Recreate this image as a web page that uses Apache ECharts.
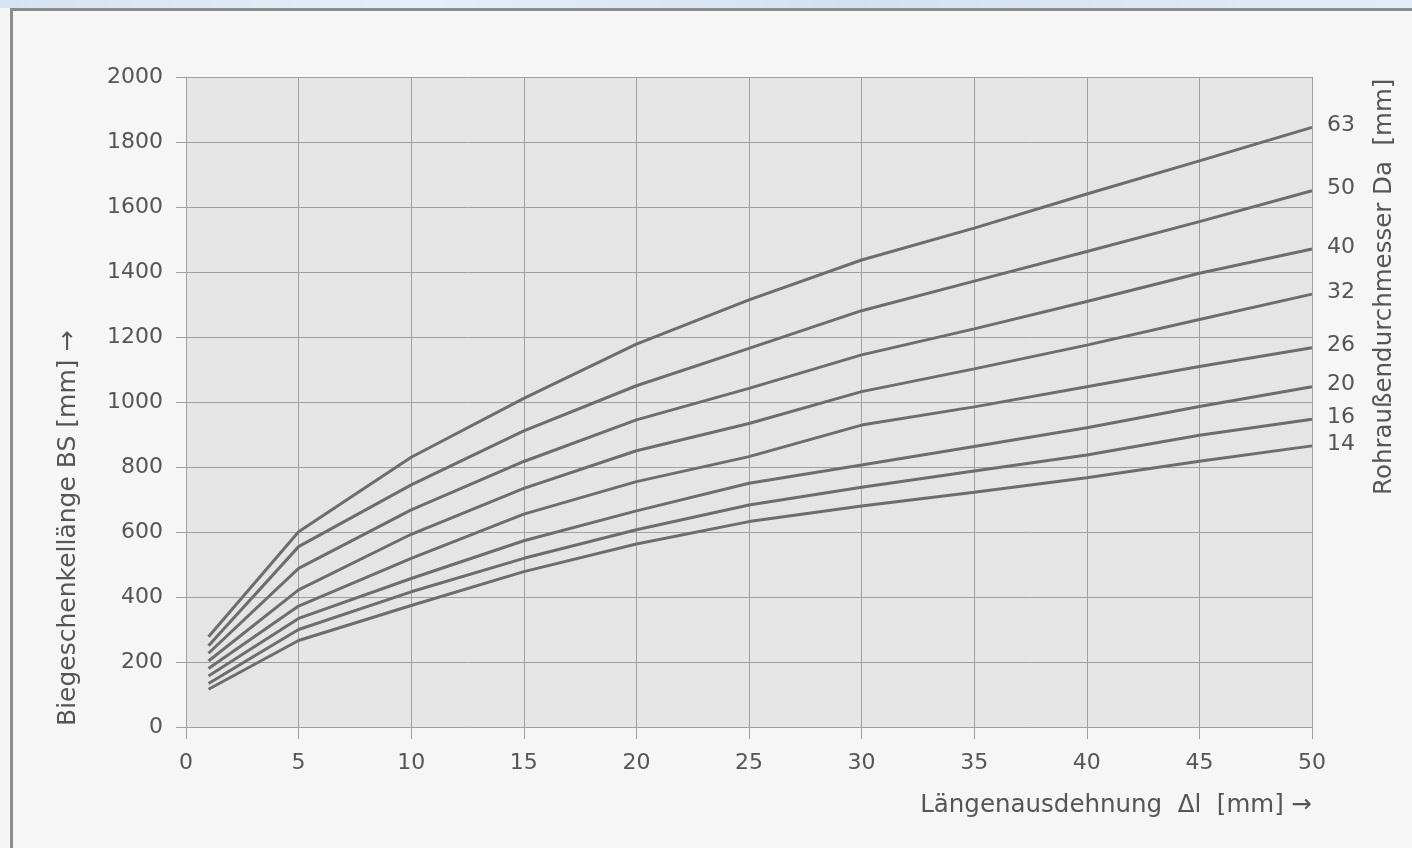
<!DOCTYPE html>
<html>
<head>
<meta charset="utf-8">
<script src="https://cdn.jsdelivr.net/npm/echarts@6/dist/echarts.min.js"></script>
<style>
html,body{margin:0;padding:0;width:1412px;height:848px;overflow:hidden;background:#f5f5f5;}
#topband{position:absolute;left:0;top:0;width:1412px;height:8px;background:linear-gradient(90deg,#d6e3f0,#e4eef8 30%,#d3e1ef 60%,#e2ecf6);}
#frame{position:absolute;left:10px;top:8px;width:1420px;height:860px;border-top:3px solid #8c8c8c;border-left:3px solid #8c8c8c;background:#f6f6f6;}
#chart{position:absolute;left:0;top:0;width:1412px;height:848px;}
</style>
</head>
<body>
<div id="topband"></div>
<div id="frame"></div>
<div id="chart"></div>
<script>
// Längenausdehnung Δl [mm]
const xValues = [1, 5, 10, 15, 20, 25, 30, 35, 40, 45, 50];
// Rohraußendurchmesser Da [mm] -> Biegeschenkellänge BS [mm]
const da63 = [278, 601, 830, 1011, 1178, 1314, 1437, 1535, 1640, 1742, 1845];
const da50 = [250, 555, 745, 911, 1050, 1165, 1281, 1372, 1463, 1555, 1650];
const da40 = [227, 488, 668, 817, 945, 1042, 1145, 1225, 1309, 1396, 1471];
const da32 = [203, 422, 593, 734, 850, 934, 1032, 1102, 1175, 1254, 1332];
const da26 = [180, 372, 519, 655, 755, 832, 929, 985, 1047, 1109, 1167];
const da20 = [157, 334, 457, 573, 665, 750, 806, 863, 921, 986, 1047];
const da16 = [134, 300, 416, 519, 607, 683, 738, 788, 837, 898, 947];
const da14 = [116, 266, 374, 478, 563, 632, 680, 722, 767, 818, 865];
const seriesNames = ['63', '50', '40', '32', '26', '20', '16', '14'];
const seriesValues = [da63, da50, da40, da32, da26, da20, da16, da14];
const xAxisTitle = 'Längenausdehnung  \u0394l  [mm] \u2192';
const yAxisTitle = 'Biegeschenkellänge BS [mm] \u2192';
const rightTitle = 'Rohraußendurchmesser Da  [mm]';

const FONT = '"DejaVu Sans", "Liberation Sans", Arial, sans-serif';
const TXT = '#555555';
const GRIDC = '#a0a0a0';

const chart = echarts.init(document.getElementById('chart'), null, {renderer: 'canvas'});

const series = seriesNames.map((name, i) => ({
  name: name,
  type: 'line',
  symbol: 'none',
  silent: true,
  data: xValues.map((x, j) => [x, seriesValues[i][j]]),
  lineStyle: {color: '#6d6d6d', width: 3},
  endLabel: {
    show: true,
    formatter: name,
    color: TXT,
    fontFamily: FONT,
    fontSize: 22,
    distance: 15,
    offset: [0, -2]
  }
}));

chart.setOption({
  animation: false,
  backgroundColor: 'transparent',
  grid: {
    left: 186, right: 100, top: 77, bottom: 121,
    show: true, backgroundColor: '#e5e5e5', borderWidth: 0
  },
  xAxis: {
    type: 'value', min: 0, max: 50, interval: 5,
    axisLine: {show: true, lineStyle: {color: GRIDC, width: 1}},
    axisTick: {show: true, length: 12, lineStyle: {color: GRIDC, width: 1}},
    axisLabel: {color: TXT, fontFamily: FONT, fontSize: 22, margin: 25, formatter: v => String(v)},
    splitLine: {show: true, lineStyle: {color: GRIDC, width: 1}}
  },
  yAxis: {
    type: 'value', min: 0, max: 2000, interval: 200,
    axisLine: {show: true, lineStyle: {color: GRIDC, width: 1}},
    axisTick: {show: true, length: 10, lineStyle: {color: GRIDC, width: 1}},
    axisLabel: {color: TXT, fontFamily: FONT, fontSize: 22, margin: 23, formatter: v => String(v)},
    splitLine: {show: true, lineStyle: {color: GRIDC, width: 1}}
  },
  graphic: [
    {type: 'line', shape: {x1: 1312.5, y1: 77, x2: 1312.5, y2: 727}, style: {stroke: GRIDC, lineWidth: 1}, z: 5},
    {type: 'text', x: 1312, y: 806, style: {text: xAxisTitle, fill: TXT, font: '24.5px ' + FONT, textAlign: 'right', textVerticalAlign: 'middle'}},
    {type: 'text', x: 68, y: 726, rotation: Math.PI / 2, style: {text: yAxisTitle, fill: TXT, font: '25px ' + FONT, textAlign: 'left', textVerticalAlign: 'middle'}},
    {type: 'text', x: 1385, y: 495, rotation: Math.PI / 2, style: {text: rightTitle, fill: TXT, font: '24.5px ' + FONT, textAlign: 'left', textVerticalAlign: 'middle'}}
  ],
  series: series
});
</script>
</body>
</html>
